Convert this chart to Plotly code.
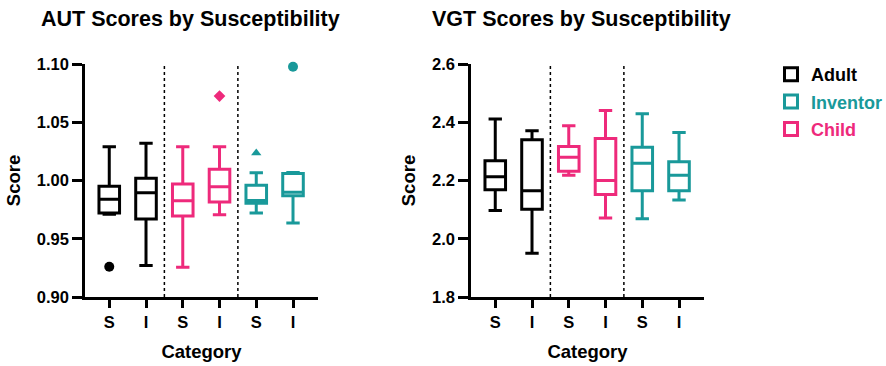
import plotly.graph_objects as go
from plotly.subplots import make_subplots

# ---------------- data ----------------
groups = ["Adult", "Child", "Inventor"]
conditions = ["S", "I"]
group_colors = {"Adult": "#000000", "Child": "#ee2a7b", "Inventor": "#19999a"}
legend_order = ["Adult", "Inventor", "Child"]

# AUT: per category (Adult S, Adult I, Child S, Child I, Inventor S, Inventor I)
aut_lower = [0.971, 0.927, 0.9255, 0.9706, 0.9722, 0.9636]
aut_q1 = [0.972, 0.967, 0.9695, 0.9815, 0.9805, 0.9870]
aut_median = [0.984, 0.9895, 0.9827, 0.9947, 0.9828, 0.9900]
aut_q3 = [0.995, 1.002, 0.997, 1.0096, 0.9959, 1.0060]
aut_upper = [1.029, 1.032, 1.029, 1.029, 1.0067, 1.0068]
# outliers: (category index, value, symbol)
aut_outlier_idx = [0, 3, 4, 5]
aut_outlier_val = [0.926, 1.0725, 1.0236, 1.0977]
aut_outlier_sym = ["circle", "diamond", "triangle-up", "circle"]

# VGT
vgt_lower = [2.097, 1.950, 2.218, 2.071, 2.069, 2.133]
vgt_q1 = [2.168, 2.101, 2.232, 2.152, 2.165, 2.165]
vgt_median = [2.213, 2.165, 2.280, 2.200, 2.259, 2.218]
vgt_q3 = [2.268, 2.340, 2.317, 2.344, 2.314, 2.264]
vgt_upper = [2.411, 2.371, 2.388, 2.440, 2.429, 2.365]

aut_ticks = [0.90, 0.95, 1.00, 1.05, 1.10]
vgt_ticks = [1.8, 2.0, 2.2, 2.4, 2.6]

titles = ["AUT Scores by Susceptibility", "VGT Scores by Susceptibility"]

# ---------------- figure ----------------
FONT = "Liberation Sans, Arial, sans-serif"
W, H = 886, 366
ML, MR, MT, MB = 85, 182, 64, 69
pw = W - ML - MR
ph = H - MT - MB
plot_w = 233
d1 = [0, plot_w / pw]
d2 = [1 - plot_w / pw, 1]

fig = make_subplots(rows=1, cols=2)

cat_labels = [c for g in groups for c in conditions]
cat_group = [g for g in groups for c in conditions]
positions = list(range(len(cat_labels)))

def add_boxes(col, lower, q1, med, q3, upper):
    for i, pos in enumerate(positions):
        g = cat_group[i]
        fig.add_trace(go.Box(
            x=[pos], lowerfence=[lower[i]], q1=[q1[i]], median=[med[i]],
            q3=[q3[i]], upperfence=[upper[i]],
            width=0.56, whiskerwidth=0.65,
            line=dict(color=group_colors[g], width=3),
            fillcolor="rgba(255,255,255,0)",
            boxpoints=False, showlegend=False, hoverinfo="skip",
        ), row=1, col=col)

add_boxes(1, aut_lower, aut_q1, aut_median, aut_q3, aut_upper)
add_boxes(2, vgt_lower, vgt_q1, vgt_median, vgt_q3, vgt_upper)

# outliers
for idx, val, sym in zip(aut_outlier_idx, aut_outlier_val, aut_outlier_sym):
    g = cat_group[idx]
    size = 10 if sym == "circle" else 9
    fig.add_trace(go.Scatter(
        x=[positions[idx]], y=[val], mode="markers",
        marker=dict(symbol=sym, size=size, color=group_colors[g]),
        showlegend=False, hoverinfo="skip", cliponaxis=False,
    ), row=1, col=1)

# legend entries
for g in legend_order:
    c = group_colors[g]
    fig.add_trace(go.Scatter(
        x=[None], y=[None], mode="markers",
        marker=dict(symbol="square-open", size=13, color=c, line=dict(width=3, color=c)),
        name=f"<b><span style='color:{c}'>{g}</span></b>",
        legendgroup=g, showlegend=True,
    ), row=1, col=1)

# group separators (between groups)
for col in (1, 2):
    xref = "x" if col == 1 else "x2"
    yref = "y domain" if col == 1 else "y2 domain"
    for k in range(1, len(groups)):
        sep = k * len(conditions) - 0.5
        fig.add_shape(type="line", xref=xref, yref=yref, x0=sep, x1=sep, y0=0, y1=1,
                      line=dict(color="black", width=1.5, dash="dot"), layer="below")

axis_common = dict(
    showline=True, linecolor="black", linewidth=2.5, ticks="outside",
    tickwidth=2.5, tickcolor="black", showgrid=False, zeroline=False,
    tickfont=dict(family=FONT, size=16.5, color="black", weight="bold"),
    title_font=dict(family=FONT, size=18.5, color="black", weight="bold"),
)
xr = [-0.66, 5.68]
for col, dom in ((1, d1), (2, d2)):
    fig.update_xaxes(
        domain=dom, range=xr, tickmode="array", tickvals=positions,
        ticktext=cat_labels, ticklen=8, title_text="Category", title_standoff=16,
        **axis_common, row=1, col=col)

fig.update_yaxes(range=[0.9, 1.1], tickmode="array", tickvals=aut_ticks,
                 ticktext=[f"{v:.2f}" for v in aut_ticks], ticklen=10,
                 title_text="Score", title_standoff=12, **axis_common, row=1, col=1)
fig.update_yaxes(range=[1.8, 2.6], tickmode="array", tickvals=vgt_ticks,
                 ticktext=[f"{v:.1f}" for v in vgt_ticks], ticklen=10,
                 title_text="Score", title_standoff=12, **axis_common, row=1, col=2)

# titles
for t, xpx in zip(titles, (39, 430)):
    fig.add_annotation(text=f"<b>{t}</b>", xref="paper", yref="paper",
                       x=(xpx - ML) / pw, y=1 + (MT - 19) / ph,
                       xanchor="left", yanchor="middle", showarrow=False,
                       font=dict(family=FONT, size=21.5, color="black"))

fig.update_layout(
    width=W, height=H, margin=dict(l=ML, r=MR, t=MT, b=MB, autoexpand=False),
    plot_bgcolor="white", paper_bgcolor="white",
    font=dict(family=FONT, color="black"),
    showlegend=True,
    legend=dict(x=(771 - ML) / pw, y=1 + (MT - 56) / ph, xanchor="left", yanchor="top",
                font=dict(family=FONT, size=18), traceorder="grouped",
                tracegroupgap=1, itemwidth=30, bgcolor="rgba(0,0,0,0)"),
)

fig.write_html("out.html")
